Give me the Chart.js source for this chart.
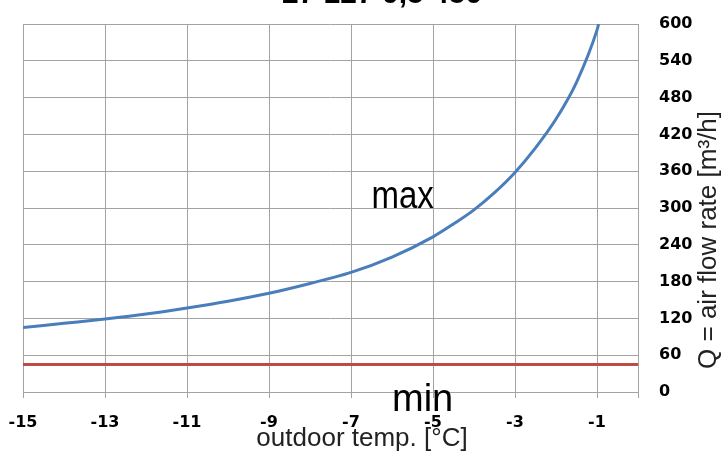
<!DOCTYPE html>
<html>
<head>
<meta charset="utf-8">
<script src="https://cdn.jsdelivr.net/npm/chart.js@4/dist/chart.umd.min.js"></script>
<style>
  html, body { margin: 0; padding: 0; background: #ffffff; }
  #wrap { width: 724px; height: 451px; position: relative; }
</style>
</head>
<body>
<div id="wrap"><canvas id="c" width="724" height="451"></canvas></div>
<script>
// ---- data ----
const chartTitle = "27 127 0,5 450";
const xTitle = "outdoor temp. [°C]";
const yTitle = "Q = air flow rate [m³/h]";
const xTickValues = [-15, -13, -11, -9, -7, -5, -3, -1, 0];
const yTickValues = [0, 60, 120, 180, 240, 300, 360, 420, 480, 540, 600];
const maxTemps = [-15, -14, -13, -12, -11, -10, -9, -8, -7, -6, -5, -4.5, -4, -3.5, -3, -2.5, -2, -1.5, -1, -0.96];
const maxFlow  = [105, 112, 119, 127, 137, 148, 161, 177, 195, 220, 253, 274, 297, 325, 358, 398, 445, 505, 590, 600];
const minTemps = [-15, 0];
const minFlow  = [45, 45];
const seriesLabels = ["max", "min"];

const toPoints = (xs, ys) => xs.map((x, i) => ({ x: x, y: ys[i] }));

const GRID = '#a3a3a3';

const noPad = s => { s.paddingLeft = 0; s.paddingRight = 0; s.paddingTop = 0; s.paddingBottom = 0; };

const textPlugin = {
  id: 'texts',
  afterDraw(chart) {
    const ctx = chart.ctx;
    const xs = chart.scales.x, ys = chart.scales.y;
    ctx.save();
    ctx.fillStyle = '#000';
    // cut-off chart title at top
    ctx.font = 'bold 30px "Liberation Sans"';
    ctx.textAlign = 'center';
    ctx.textBaseline = 'alphabetic';
    ctx.fillText(chartTitle, 382, 3);
    // series labels
    ctx.textAlign = 'left';
    ctx.save();
    ctx.translate(xs.getPixelForValue(-6.5), ys.getPixelForValue(300));
    ctx.scale(1, 1.2);
    ctx.font = '33px "Liberation Sans"';
    ctx.fillText(seriesLabels[0], 0, 0);
    ctx.restore();
    ctx.font = '38px "Liberation Sans"';
    ctx.fillText(seriesLabels[1], xs.getPixelForValue(-6.0), ys.getPixelForValue(-30.5));
    // axis titles
    ctx.font = '26px "Liberation Sans"';
    ctx.fillStyle = '#222';
    ctx.textAlign = 'center';
    ctx.fillText(xTitle, 362, 446);
    ctx.save();
    ctx.translate(716, 240);
    ctx.rotate(-Math.PI / 2);
    ctx.fillText(yTitle, 0, 0);
    ctx.restore();
    ctx.restore();
  }
};

new Chart(document.getElementById('c'), {
  type: 'line',
  data: {
    datasets: [
      {
        label: seriesLabels[0],
        data: toPoints(maxTemps, maxFlow),
        borderColor: '#4a7ebb',
        borderWidth: 3,
        pointRadius: 0,
        fill: false,
        cubicInterpolationMode: 'monotone'
      },
      {
        label: seriesLabels[1],
        data: toPoints(minTemps, minFlow),
        borderColor: '#be4b48',
        borderWidth: 3,
        pointRadius: 0,
        fill: false
      }
    ]
  },
  options: {
    responsive: false,
    animation: false,
    devicePixelRatio: 1,
    layout: { padding: { left: 23, top: 24, right: 0, bottom: 0 } },
    plugins: { legend: { display: false }, tooltip: { enabled: false }, title: { display: false } },
    scales: {
      x: {
        type: 'linear',
        min: -15,
        max: 0,
        afterBuildTicks: s => { s.ticks = xTickValues.map(v => ({ value: v })); },
        afterFit: s => { s.height = 59; noPad(s); },
        grid: { color: GRID, lineWidth: 1, drawTicks: true, tickLength: 6, tickColor: GRID },
        border: { display: true, color: GRID },
        ticks: {
          autoSkip: false,
          maxRotation: 0,
          padding: 15,
          color: '#000',
          font: { family: 'DejaVu Sans', weight: 'bold', size: 16 },
          callback: v => (v === 0 ? '' : String(v))
        }
      },
      y: {
        type: 'linear',
        position: 'right',
        min: 0,
        max: 600,
        afterBuildTicks: s => { s.ticks = yTickValues.map(v => ({ value: v })); },
        afterFit: s => { s.width = 86; noPad(s); },
        grid: { color: GRID, lineWidth: 1, drawTicks: false },
        border: { display: true, color: GRID },
        ticks: {
          padding: 21,
          color: '#000',
          font: { family: 'DejaVu Sans', weight: 'bold', size: 16 },
          callback: v => String(v)
        }
      }
    }
  },
  plugins: [textPlugin]
});
</script>
</body>
</html>
